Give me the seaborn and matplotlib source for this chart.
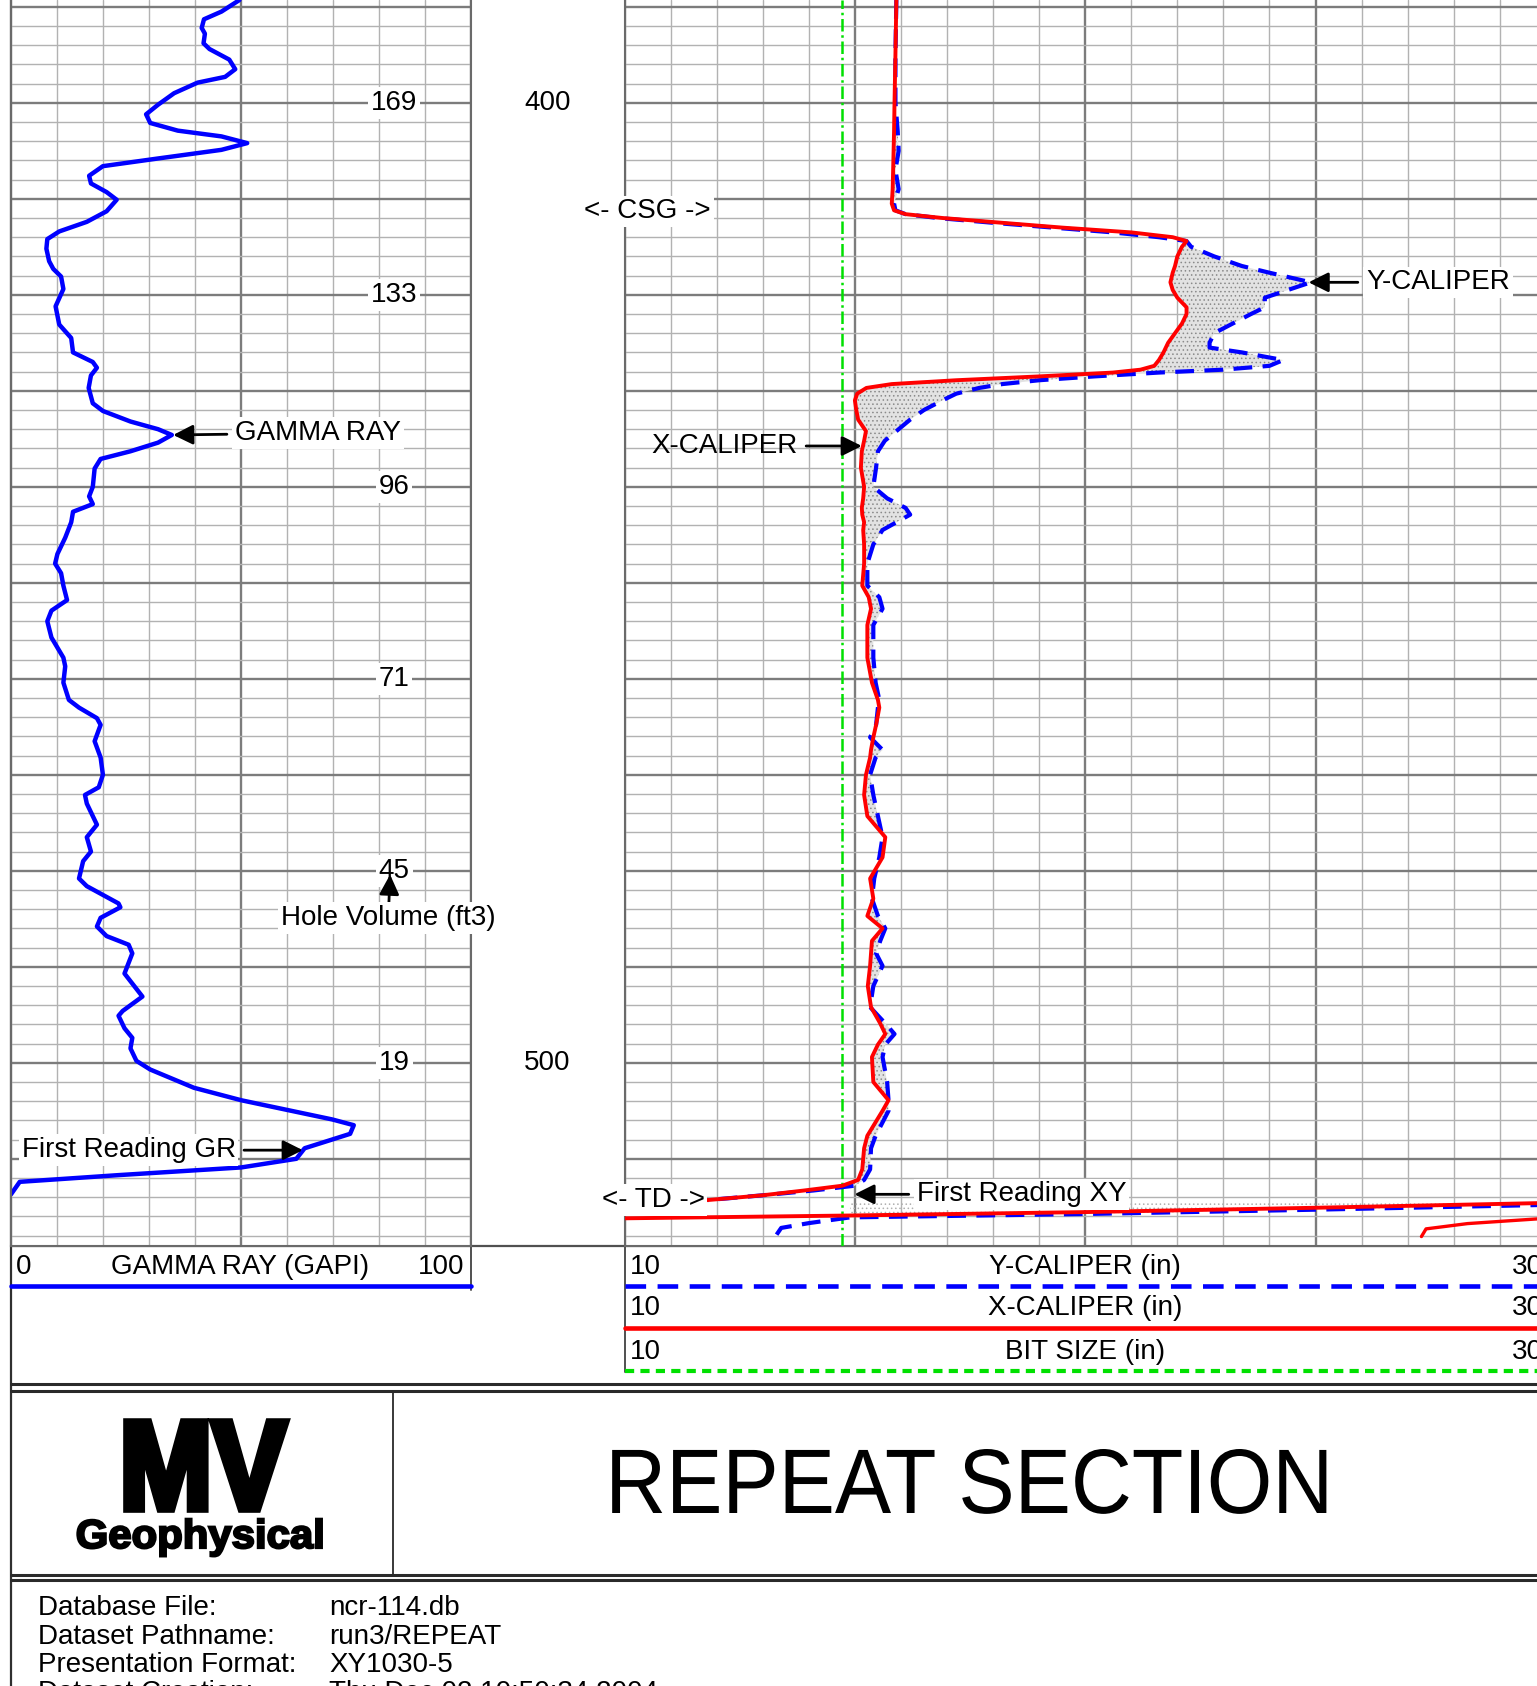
import matplotlib
matplotlib.use("Agg")
import matplotlib.pyplot as plt
from matplotlib.ticker import MultipleLocator
from matplotlib.patheffects import AbstractPathEffect
from matplotlib.transforms import Affine2D
import pandas as pd
import seaborn as sns

gr_depth = [389.3, 390.5, 391.3, 392.2, 392.8, 393.8, 394.4, 395.5, 396.5, 397.3,
            397.9, 399.0, 400.2, 401.2, 402.1, 402.9, 403.5, 404.2, 404.9, 405.8,
            406.6, 407.6, 408.4, 409.3, 410.1, 411.3, 412.4, 413.4, 414.2, 415.2,
            416.5, 417.3, 418.1, 419.4, 421.2, 423.1, 424.5, 426.0, 427.0, 427.6,
            428.4, 429.7, 431.3, 432.1, 433.2, 434.0, 434.6, 435.4, 436.3, 437.1,
            438.1, 440.0, 441.0, 441.8, 442.6, 443.7, 445.3, 447.0, 448.0, 449.0,
            450.3, 451.8, 452.9, 454.0, 455.7, 457.8, 458.7, 460.4, 462.2, 463.0,
            464.1, 464.8, 466.5, 468.2, 470.0, 471.3, 472.1, 473.0, 475.2, 476.5,
            478.0, 479.0, 480.8, 481.6, 483.4, 483.8, 484.9, 485.8, 486.8, 487.7,
            488.6, 490.7, 492.3, 493.1, 494.6, 495.1, 496.4, 497.4, 498.5, 499.8,
            500.7, 502.6, 503.9, 505.9, 506.5, 507.4, 508.9, 510.0, 510.9, 511.7,
            512.4, 513.7]
gr_api = [49.7, 45.8, 42.0, 41.5, 42.2, 41.9, 43.2, 47.5, 48.8, 46.6,
          40.6, 35.5, 32.0, 29.4, 30.3, 36.3, 45.8, 51.4, 45.8, 32.0,
          20.0, 17.0, 17.4, 20.8, 23.0, 20.8, 16.5, 10.5, 7.9, 7.7,
          8.3, 9.2, 10.9, 11.4, 9.7, 10.5, 13.1, 13.5, 17.8, 18.7,
          17.4, 16.9, 17.8, 20.0, 26.0, 32.0, 35.0, 32.0, 26.0, 19.5,
          18.2, 17.8, 17.0, 17.8, 13.5, 13.1, 11.8, 10.1, 9.6, 10.9,
          11.4, 12.2, 8.8, 7.9, 8.8, 11.4, 11.8, 11.4, 12.6, 14.8,
          18.7, 19.5, 18.2, 19.5, 20.0, 19.1, 16.1, 16.5, 18.7, 16.5,
          17.4, 15.7, 14.8, 16.5, 23.4, 23.8, 19.5, 18.7, 20.8, 25.6,
          26.4, 24.7, 27.3, 28.6, 24.3, 23.4, 24.7, 26.4, 26.0, 27.3,
          30.3, 39.8, 50.1, 69.9, 74.6, 73.8, 63.9, 62.1, 50.1, 23.4,
          1.9, 0.0]

cal_depth = [389.3, 395.0, 400.0, 403.0, 405.0, 407.0, 409.0, 410.5, 411.2, 411.6,
             412.0, 412.5, 413.0, 413.5, 414.0, 414.4, 415.0, 416.0, 417.0, 417.7,
             418.7, 419.5, 420.3, 421.3, 422.0, 423.0, 424.0, 425.0, 425.5, 426.0,
             426.8, 427.4, 427.8, 428.1, 428.5, 428.9, 429.3, 429.7, 430.3, 431.0,
             432.0, 433.0, 434.2, 435.2, 436.3, 438.0, 440.0, 441.2, 442.2, 442.9,
             443.7, 444.5, 446.0, 448.0, 450.3, 451.5, 452.7, 454.4, 456.0, 457.8,
             460.4, 462.2, 463.0, 464.8, 466.1, 467.4, 468.2, 470.0, 472.1, 474.3,
             476.5, 478.6, 480.8, 482.9, 484.7, 486.0, 487.3, 488.6, 489.9, 492.0,
             494.2, 495.9, 497.0, 498.1, 499.4, 502.0, 503.9, 505.0, 507.6, 508.9,
             511.1, 512.2, 512.8, 513.3, 513.8, 514.3]
x_caliper = [15.90, 15.88, 15.86, 15.85, 15.84, 15.83, 15.82, 15.80, 15.85, 16.1,
             16.9, 18.2, 19.5, 21.0, 21.9, 22.2, 22.1, 22.0, 21.95, 21.9,
             21.85, 21.9, 22.0, 22.2, 22.2, 22.1, 21.95, 21.8, 21.75, 21.7,
             21.6, 21.5, 21.2, 20.6, 19.0, 17.2, 15.8, 15.25, 15.05, 15.0,
             15.03, 15.07, 15.24, 15.2, 15.15, 15.13, 15.2, 15.18, 15.15, 15.16,
             15.2, 15.18, 15.2, 15.2, 15.16, 15.3, 15.35, 15.27, 15.27, 15.27,
             15.37, 15.5, 15.53, 15.46, 15.4, 15.35, 15.33, 15.24, 15.2, 15.27,
             15.66, 15.6, 15.33, 15.4, 15.27, 15.6, 15.37, 15.35, 15.33, 15.28,
             15.35, 15.55, 15.66, 15.5, 15.37, 15.4, 15.73, 15.6, 15.27, 15.2,
             15.16, 15.07, 14.73, 13.9, 13.0, 11.8]
y_caliper = [15.90, 15.88, 15.88, 15.93, 15.95, 15.88, 15.95, 15.85, 15.88, 16.1,
             16.8, 18.0, 19.3, 20.6, 21.6, 22.2, 22.3, 22.8, 23.4, 24.0,
             24.9, 24.4, 23.9, 23.9, 23.6, 23.2, 22.8, 22.7, 22.7, 23.4,
             24.3, 24.0, 23.0, 21.6, 20.2, 19.0, 18.2, 17.7, 17.2, 16.9,
             16.5, 16.2, 15.9, 15.65, 15.5, 15.46, 15.4, 15.7, 16.1, 16.2,
             15.9, 15.6, 15.4, 15.27, 15.27, 15.53, 15.6, 15.4, 15.4, 15.4,
             15.45, 15.53, 15.5, 15.46, 15.33, 15.6, 15.45, 15.33, 15.4, 15.5,
             15.6, 15.53, 15.42, 15.37, 15.5, 15.66, 15.55, 15.46, 15.6, 15.4,
             15.33, 15.66, 15.86, 15.66, 15.6, 15.7, 15.73, 15.73, 15.45, 15.35,
             15.33, 15.2, 15.0, 14.1, 13.0, 11.8]
bit_size = 14.73

# traces below TD (wrapped readings)
wrap_x_cal = [10.0, 15.0, 20.0, 25.0, 30.0]
wrap_x_depth = [516.2, 515.9, 515.55, 515.1, 514.6]
wrap_y_cal = [13.3, 13.4, 14.0, 14.9, 20.0, 25.0, 30.0]
wrap_y_depth = [517.9, 517.2, 516.7, 516.1, 515.75, 515.3, 514.8]
wrap_x2_cal = [27.3, 27.4, 28.3, 30.0]
wrap_x2_depth = [518.1, 517.3, 516.75, 516.2]

vol_depth = [400, 420, 440, 460, 480, 500]
vol_labels = ["169", "133", "96", "71", "45", "19"]
depth_marks = [400, 500]

footer_keys = ["Database File:", "Dataset Pathname:", "Presentation Format:", "Dataset Creation:"]
footer_vals = ["ncr-114.db", "run3/REPEAT", "XY1030-5", "Thu Dec 02 10:50:34 2004"]

# ---------------- layout ----------------
W, H = 1537, 1686
DEPTH_TOP = 400 - 102.8 / 9.6
DEPTH_BOT = 400 + (1245.5 - 102.8) / 9.6

sns.set_style("white")
plt.rcParams["font.family"] = ["Liberation Sans", "DejaVu Sans"]
plt.rcParams["text.color"] = "black"
plt.rcParams["hatch.linewidth"] = 0.6
FS = 20
WHITE = dict(facecolor="white", edgecolor="none", pad=2)
ARROW = dict(arrowstyle="-|>,head_length=0.6,head_width=0.3", color="black", lw=2,
             shrinkA=4, shrinkB=0)


class Squeeze(AbstractPathEffect):
    """Horizontally squeeze (and optionally embolden) a text around x = cx (pixels)."""

    def __init__(self, sx, cx, stroke=0.0):
        super().__init__()
        self.sx, self.cx, self.stroke = sx, cx, stroke

    def draw_path(self, renderer, gc, tpath, affine, rgbFace=None):
        aff = affine + Affine2D().translate(-self.cx, 0).scale(self.sx, 1).translate(self.cx, 0)
        gc0 = renderer.new_gc()
        gc0.copy_properties(gc)
        if self.stroke:
            gc0.set_linewidth(self.stroke)
            gc0.set_foreground(rgbFace)
            gc0.set_joinstyle("miter")
        renderer.draw_path(gc0, tpath, aff, rgbFace)
        gc0.restore()


fig = plt.figure(figsize=(W / 100, H / 100), dpi=100)


def px_axes(x0, y0, x1, y1, z=1):
    return fig.add_axes([x0 / W, 1 - y1 / H, (x1 - x0) / W, (y1 - y0) / H], zorder=z)


def style_track(ax, xlim, major, minor):
    ax.set_xlim(*xlim)
    ax.set_ylim(DEPTH_BOT, DEPTH_TOP)
    ax.xaxis.set_major_locator(MultipleLocator(major))
    ax.xaxis.set_minor_locator(MultipleLocator(minor))
    ax.yaxis.set_major_locator(MultipleLocator(10))
    ax.yaxis.set_minor_locator(MultipleLocator(2))
    ax.grid(which="minor", color="#b2b2b2", lw=1.0)
    ax.grid(which="major", color="#7c7c7c", lw=1.7)
    ax.set_axisbelow(True)
    ax.tick_params(which="both", length=0, labelbottom=False, labelleft=False)
    ax.set_xlabel("")
    ax.set_ylabel("")
    for s in ax.spines.values():
        s.set_color("#6a6a6a")
        s.set_linewidth(1.5)
    ax.spines["top"].set_visible(False)


# background canvas in pixel units for frames, legends and header
cv = fig.add_axes([0, 0, 1, 1], zorder=0)
cv.set_xlim(0, W)
cv.set_ylim(H, 0)
cv.axis("off")

# ---------------- gamma ray track ----------------
ax_gr = px_axes(11, 0, 470.5, 1245.5)
gr_df = pd.DataFrame({"depth": gr_depth, "gr": gr_api})
sns.lineplot(data=gr_df, x="gr", y="depth", sort=False, estimator=None, orient="y",
             color="#0000ff", lw=3.2, solid_joinstyle="round", ax=ax_gr, legend=False)
style_track(ax_gr, (0, 100), 50, 10)

for d, lab in zip(vol_depth, vol_labels):
    ax_gr.text(83.4, d, lab, ha="center", va="center", fontsize=FS, bbox=WHITE, zorder=5)

ax_gr.annotate("GAMMA RAY", xy=(35.3, 434.6), xytext=(48.8, 434.4), fontsize=FS,
               va="center", ha="left", bbox=WHITE, arrowprops=ARROW)
ax_gr.annotate("Hole Volume (ft3)", xy=(82.5, 480.4), xytext=(82.1, 484.9), fontsize=FS,
               va="center", ha="center", bbox=WHITE,
               arrowprops=dict(ARROW, shrinkA=0), zorder=6)
ax_gr.annotate("First Reading GR", xy=(63.5, 509.1), xytext=(2.3, 509.1), fontsize=FS,
               va="center", ha="left", bbox=WHITE, arrowprops=ARROW)

# ---------------- depth track ----------------
ax_d = px_axes(470.5, 0, 624.6, 1245.5, z=3)
ax_d.set_xlim(0, 1)
ax_d.set_ylim(DEPTH_BOT, DEPTH_TOP)
ax_d.axis("off")
for d in depth_marks:
    ax_d.text(0.5, d, str(d), ha="center", va="center", fontsize=FS)

# ---------------- caliper track ----------------
ax_c = px_axes(624.6, 0, 1545.8, 1245.5, z=2)
cal_df = pd.DataFrame({"depth": cal_depth, "xcal": x_caliper, "ycal": y_caliper})
ax_c.fill_betweenx(cal_df["depth"], cal_df["xcal"], cal_df["ycal"],
                   where=cal_df["ycal"] > cal_df["xcal"], interpolate=True,
                   facecolor="#e2e2e2", edgecolor="#8a8a8a", hatch="....", lw=0, zorder=2)
ax_c.axvline(bit_size, color="#00e000", lw=1.8, ls=(0, (5, 1.5, 1, 1.5)), zorder=3)
sns.lineplot(data=cal_df, x="ycal", y="depth", sort=False, estimator=None, orient="y",
             color="#0000ff", lw=3.0, ls=(0, (4.5, 2.5)), ax=ax_c, legend=False, zorder=4)
sns.lineplot(data=cal_df, x="xcal", y="depth", sort=False, estimator=None, orient="y",
             color="#ff0000", lw=2.8, solid_joinstyle="round", ax=ax_c, legend=False, zorder=5)

ax_c.fill_between(wrap_y_cal[3:], wrap_y_depth[3:], [514.6] * len(wrap_y_cal[3:]),
                  facecolor="none", edgecolor="#b0b0b0", hatch="....", lw=0, zorder=2)
sns.lineplot(x=wrap_y_cal, y=wrap_y_depth, sort=False, estimator=None, orient="y",
             color="#0000ff", lw=3.0, ls=(0, (4.5, 2.5)), ax=ax_c, legend=False, zorder=4)
sns.lineplot(x=wrap_x_cal, y=wrap_x_depth, sort=False, estimator=None, orient="y",
             color="#ff0000", lw=2.8, ax=ax_c, legend=False, zorder=5)
sns.lineplot(x=wrap_x2_cal, y=wrap_x2_depth, sort=False, estimator=None, orient="y",
             color="#ff0000", lw=2.4, ax=ax_c, legend=False, zorder=5)
style_track(ax_c, (10, 30), 5, 1)

ax_c.annotate("X-CALIPER", xy=(15.15, 435.75), xytext=(13.75, 435.75), fontsize=FS,
              va="center", ha="right", arrowprops=ARROW, zorder=8)
ax_c.annotate("Y-CALIPER", xy=(24.85, 418.7), xytext=(26.1, 418.7), fontsize=FS,
              va="center", ha="left", bbox=WHITE, arrowprops=ARROW, zorder=8)
ax_c.annotate("First Reading XY", xy=(14.99, 513.7), xytext=(16.35, 513.7), fontsize=FS,
              va="center", ha="left", bbox=WHITE, arrowprops=ARROW, zorder=8)
ax_c.text(10.5, 411.3, "<- CSG ->", ha="center", va="center", fontsize=FS,
          bbox=WHITE, clip_on=False, zorder=8)
ax_c.text(10.62, 514.3, "<- TD ->", ha="center", va="center", fontsize=FS,
          bbox=WHITE, clip_on=False, zorder=8)

# ---------------- frames and curve legends ----------------
frame = "#505050"
cv.plot([11, 11], [0, H], color="#303030", lw=1.6)
cv.plot([11, W], [1245.5, 1245.5], color=frame, lw=1.6)
cv.plot([470.5, 470.5], [1245.5, 1290], color=frame, lw=1.4)
cv.plot([624.6, 624.6], [1245.5, 1372], color=frame, lw=1.4)
cv.plot([11, 470.5], [1286, 1286], color="#0000ff", lw=3.3)
cv.plot([624.6, W], [1286, 1286], color="#0000ff", lw=3.3, ls=(0, (4.5, 2.5)))
cv.plot([624.6, W], [1327.7, 1327.7], color="#ff0000", lw=3.3)
cv.plot([624.6, W], [1370.7, 1370.7], color="#00e000", lw=3.0, ls=(0, (2.2, 1.5)))

cv.text(16, 1267, "0", ha="left", va="center", fontsize=FS)
cv.text(240, 1267, "GAMMA RAY (GAPI)", ha="center", va="center", fontsize=FS)
cv.text(464, 1267, "100", ha="right", va="center", fontsize=FS)
for yy, name in zip([1267, 1308, 1352], ["Y-CALIPER (in)", "X-CALIPER (in)", "BIT SIZE (in)"]):
    cv.text(630, yy, "10", ha="left", va="center", fontsize=FS)
    cv.text(1085, yy, name, ha="center", va="center", fontsize=FS)
    cv.text(1543, yy, "30", ha="right", va="center", fontsize=FS)

# ---------------- header box ----------------
for yy in [1383.5, 1390.5, 1574.5, 1579.5]:
    cv.plot([11, W], [yy, yy], color="#2a2a2a", lw=2.2)
cv.plot([393, 393], [1390.5, 1574.5], color="#2a2a2a", lw=1.3)
cv.text(203, 1509, "MV", ha="center", va="baseline", fontsize=91, fontweight="bold",
        path_effects=[Squeeze(0.88, 203, stroke=5.5)])
cv.text(200, 1548, "Geophysical", ha="center", va="baseline", fontsize=29,
        fontweight="bold", path_effects=[Squeeze(1.04, 200, stroke=1.6)])
cv.text(969, 1513, "REPEAT SECTION", ha="center", va="baseline", fontsize=66,
        path_effects=[Squeeze(0.92, 969)])

# ---------------- footer ----------------
for i, (k, v) in enumerate(zip(footer_keys, footer_vals)):
    yy = 1608 + i * 28.5
    cv.text(38, yy, k, ha="left", va="center", fontsize=FS)
    cv.text(329, yy, v, ha="left", va="center", fontsize=FS)

fig.savefig("out.png", dpi=100)
